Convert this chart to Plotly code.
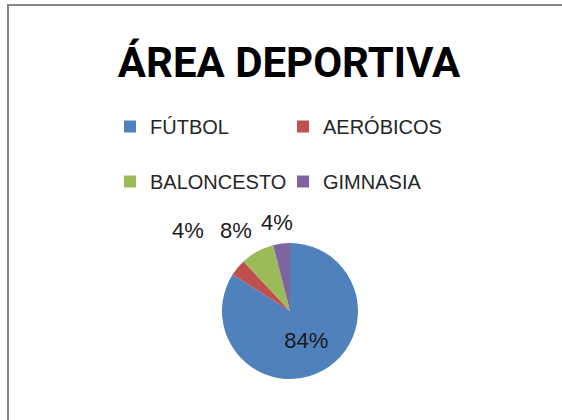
import plotly.graph_objects as go

categories = ["FÚTBOL", "AERÓBICOS", "BALONCESTO", "GIMNASIA"]
values = [84, 4, 8, 4]
colors = ["#4F81BD", "#C0504D", "#9BBB59", "#8064A2"]
text_positions = ["inside", "none", "none", "none"]
title_text = "ÁREA DEPORTIVA"

# pixel positions of the data labels drawn outside the pie (label centres)
outside_label_px = {1: (188, 229), 2: (236, 229), 3: (277, 221)}

W, H = 562, 420
ML, MR = 60, 60
PW = W - ML - MR


def px_x(x):
    return (x - ML) / PW


def px_y(y):
    return 1 - y / H


total = sum(values)
pct_labels = [f"{round(v * 100 / total)}%" for v in values]

cx, cy, r = 290, 311, 68
label_font = dict(family="Liberation Sans, Arial, sans-serif", size=22, color="#1a1a1a")

fig = go.Figure(
    go.Pie(
        labels=[c + "<br> " for c in categories],
        values=values,
        marker=dict(colors=colors, line=dict(width=0)),
        sort=False,
        direction="clockwise",
        rotation=0,
        textinfo="percent",
        textposition=text_positions,
        textfont=label_font,
        insidetextorientation="horizontal",
        domain=dict(x=[px_x(cx - r), px_x(cx + r)], y=[px_y(cy + r), px_y(cy - r)]),
        hoverinfo="label+value+percent",
    )
)

annotations = []
for i, (lx, ly) in outside_label_px.items():
    annotations.append(
        dict(
            text=pct_labels[i],
            x=px_x(lx),
            y=px_y(ly + 1),
            xref="paper",
            yref="paper",
            xanchor="center",
            yanchor="middle",
            showarrow=False,
            font=label_font,
        )
    )

fig.update_layout(
    width=W,
    height=H,
    margin=dict(l=ML, r=MR, t=0, b=0),
    paper_bgcolor="white",
    plot_bgcolor="white",
    title=dict(
        text=title_text,
        font=dict(family="Roboto, Liberation Sans, Arial, sans-serif", size=42, color="#000000", weight=700),
        x=px_x(289),
        xref="paper",
        xanchor="center",
        y=px_y(62),
        yref="container",
        yanchor="middle",
    ),
    annotations=annotations,
    showlegend=True,
    legend=dict(
        orientation="h",
        x=px_x(110),
        xanchor="left",
        y=px_y(107),
        yanchor="top",
        entrywidth=128,
        entrywidthmode="pixels",
        valign="top",
        bgcolor="rgba(0,0,0,0)",
        font=dict(family="Liberation Sans, Arial, sans-serif", size=20, color="#262626"),
        traceorder="normal",
    ),
    shapes=[
        dict(
            type="rect",
            xref="paper",
            yref="paper",
            x0=px_x(8),
            x1=px_x(620),
            y0=px_y(470),
            y1=px_y(5),
            line=dict(color="#868686", width=2),
            fillcolor="rgba(0,0,0,0)",
            layer="above",
        )
    ],
)

fig.write_html(
    "out.html",
    config={"displayModeBar": False},
    post_script="document.body.style.margin='0';",
)
